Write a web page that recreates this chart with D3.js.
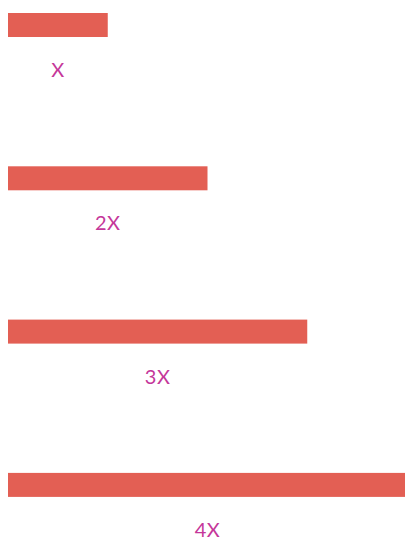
<!DOCTYPE html>
<html>
<head>
<meta charset="utf-8">
<script src="https://cdn.jsdelivr.net/npm/d3@7"></script>
<style>
  html, body { margin: 0; padding: 0; background: #fff; overflow: hidden; }
  svg { display: block; }
</style>
</head>
<body>
<script>
// Bar lengths as multiples of a base unit, with their captions
const categories = ["X", "2X", "3X", "4X"];
const values = [1, 2, 3, 4];

const width = 405, height = 544;
const barHeight = 24;

const svg = d3.select("body").append("svg")
  .attr("width", width)
  .attr("height", height);

const x = d3.scaleLinear().domain([0, 4]).range([8, 407]);
const y = d3.scaleBand().domain(categories).range([13, 13 + 4 * 153.3]);

const rows = svg.selectAll("g.row")
  .data(categories.map((c, i) => ({ label: c, value: values[i] })))
  .join("g")
  .attr("class", "row");

rows.append("rect")
  .attr("x", x(0))
  .attr("y", d => y(d.label))
  .attr("width", d => x(d.value) - x(0))
  .attr("height", barHeight)
  .attr("fill", "#e35f54");

rows.append("text")
  .attr("x", d => (x(0) + x(d.value)) / 2)
  .attr("y", d => y(d.label) + 64)
  .attr("text-anchor", "middle")
  .attr("font-family", "Lato, 'Open Sans', sans-serif")
  .attr("font-size", 20)
  .attr("letter-spacing", 0.5)
  .attr("fill", "#c5379a")
  .text(d => d.label);
</script>
</body>
</html>
